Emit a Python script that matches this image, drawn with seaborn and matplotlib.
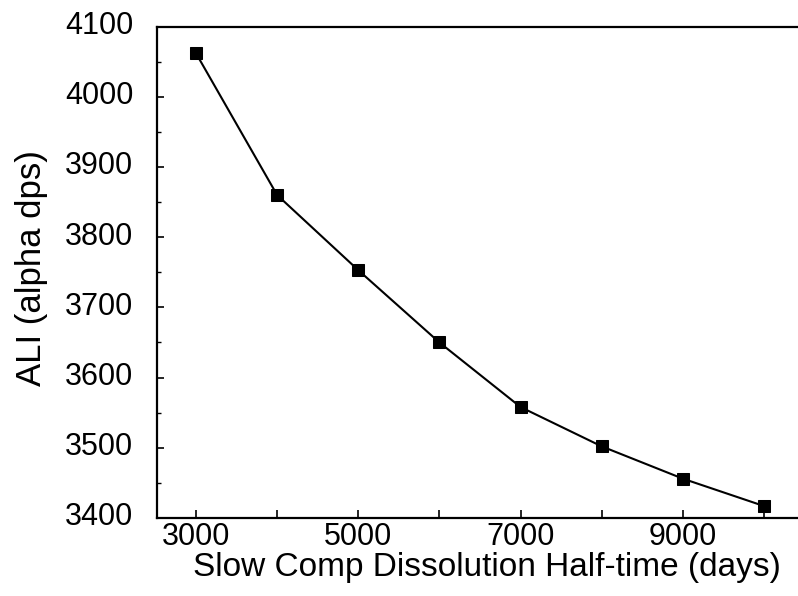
import matplotlib
matplotlib.use("Agg")
import matplotlib.pyplot as plt
import matplotlib.ticker as mticker
import matplotlib.transforms as mtransforms
import seaborn as sns
import pandas as pd

half_time_days = [3000, 4000, 5000, 6000, 7000, 8000, 9000, 10000]
ali_alpha_dps = [4062, 3860, 3753, 3650, 3558, 3502, 3456, 3417]
y_ticks = [3400, 3500, 3600, 3700, 3800, 3900, 4000, 4100]
x_label_ticks = [3000, 5000, 7000, 9000]

sns.set_style("ticks")
plt.rcParams["font.family"] = ["Liberation Sans", "DejaVu Sans"]
plt.rcParams["text.color"] = "black"
plt.rcParams["axes.labelcolor"] = "black"

df = pd.DataFrame({"x": half_time_days, "y": ali_alpha_dps})

fig = plt.figure(figsize=(7.98, 5.96), dpi=100)
ax = fig.add_axes([0.1967, 0.1309, 0.8033, 0.8245])

sns.lineplot(data=df, x="x", y="y", ax=ax, color="black", linewidth=1.5,
             marker="s", markersize=8, markeredgecolor="black",
             markerfacecolor="black")

ax.set_xlim(2519, 10419)
ax.set_ylim(3400, 4100)

ax.xaxis.set_major_locator(mticker.MultipleLocator(1000))
ax.xaxis.set_major_formatter(mticker.FuncFormatter(
    lambda v, p: f"{int(round(v))}" if int(round(v)) in x_label_ticks else ""))
ax.set_yticks(y_ticks)
ax.yaxis.set_minor_locator(mticker.MultipleLocator(50))

ax.tick_params(axis="both", which="both", direction="in", colors="black",
               labelcolor="black")
ax.tick_params(axis="x", which="major", length=6, width=1.2, pad=3, labelsize=22)
ax.tick_params(axis="y", which="major", length=5, width=1.2, pad=17, labelsize=22)
ax.tick_params(axis="y", which="minor", length=3, width=1.0)

offset = mtransforms.ScaledTranslation(0, 4 / 100, fig.dpi_scale_trans)
for lab in ax.get_yticklabels():
    lab.set_transform(lab.get_transform() + offset)

for side in ["left", "bottom", "top"]:
    ax.spines[side].set_visible(True)
    ax.spines[side].set_linewidth(1.6)
    ax.spines[side].set_color("black")
ax.spines["right"].set_visible(False)

ax.set_xlabel("Slow Comp Dissolution Half-time (days)", fontsize=24, color="black")
ax.set_ylabel("ALI (alpha dps)", fontsize=25, color="black")
ax.xaxis.set_label_coords(0.515, -0.069)
ax.yaxis.set_label_coords(-0.170, 0.509)

fig.savefig("out.png", dpi=100)
